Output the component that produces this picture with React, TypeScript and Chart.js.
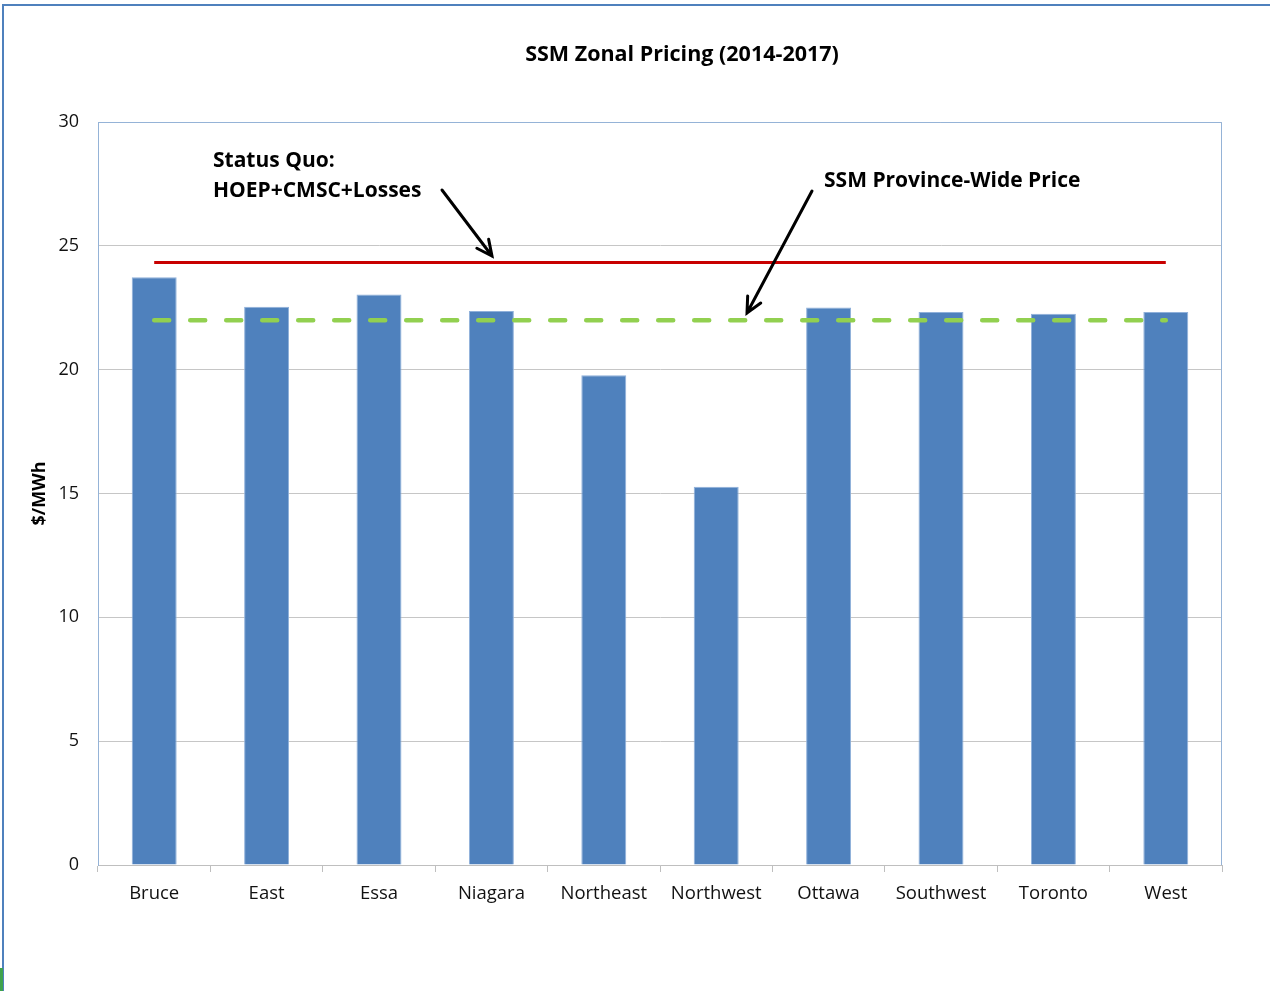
import React, { useEffect, useRef } from "react";
import { Chart, registerables } from "chart.js";

Chart.register(...registerables);

const zones = ["Bruce", "East", "Essa", "Niagara", "Northeast", "Northwest", "Ottawa", "Southwest", "Toronto", "West"];
const zonalPrices = [23.73, 22.54, 23.03, 22.37, 19.77, 15.27, 22.51, 22.33, 22.26, 22.33];
const statusQuoPrice = [24.33, 24.33, 24.33, 24.33, 24.33, 24.33, 24.33, 24.33, 24.33, 24.33];
const provinceWidePrice = [22.0, 22.0, 22.0, 22.0, 22.0, 22.0, 22.0, 22.0, 22.0, 22.0];
const yTicks = { min: 0, max: 30, step: 5 };

const chartTitle = "SSM Zonal Pricing (2014-2017)";
const yAxisTitle = "$/MWh";
const statusQuoLabel = ["Status Quo:", "HOEP+CMSC+Losses"];
const provinceLabel = "SSM Province-Wide Price";

const FONT = "'Open Sans', 'Liberation Sans', sans-serif";

function drawArrow(ctx: CanvasRenderingContext2D, x1: number, y1: number, x2: number, y2: number) {
  const ang = Math.atan2(y2 - y1, x2 - x1);
  const head = 17;
  const spread = 0.45;
  ctx.save();
  ctx.strokeStyle = "#000";
  ctx.lineWidth = 3;
  ctx.lineCap = "round";
  ctx.beginPath();
  ctx.moveTo(x1, y1);
  ctx.lineTo(x2, y2);
  ctx.moveTo(x2 - head * Math.cos(ang - spread), y2 - head * Math.sin(ang - spread));
  ctx.lineTo(x2, y2);
  ctx.lineTo(x2 - head * Math.cos(ang + spread), y2 - head * Math.sin(ang + spread));
  ctx.stroke();
  ctx.restore();
}

const decorPlugin = {
  id: "decor",
  beforeDatasetsDraw(chart: any) {
    const { ctx, chartArea } = chart;
    ctx.save();
    ctx.strokeStyle = "#95B3D7";
    ctx.lineWidth = 1;
    ctx.beginPath();
    ctx.moveTo(chartArea.left + 0.5, chartArea.bottom);
    ctx.lineTo(chartArea.left + 0.5, chartArea.top + 0.5);
    ctx.lineTo(chartArea.right - 0.5, chartArea.top + 0.5);
    ctx.lineTo(chartArea.right - 0.5, chartArea.bottom);
    ctx.stroke();
    ctx.restore();
  },
  afterDraw(chart: any) {
    const { ctx, width, height } = chart;
    ctx.save();
    // outer frame
    ctx.strokeStyle = "#4F81BD";
    ctx.lineWidth = 2;
    ctx.beginPath();
    ctx.moveTo(3, height + 5);
    ctx.lineTo(3, 5);
    ctx.lineTo(width + 5, 5);
    ctx.stroke();
    ctx.fillStyle = "#3FA34D";
    ctx.fillRect(0, 968, 3, 23);

    // title
    ctx.fillStyle = "#000";
    ctx.textAlign = "center";
    ctx.textBaseline = "middle";
    ctx.font = `bold 21.5px ${FONT}`;
    ctx.fillText(chartTitle, 682, 55);

    // annotations
    ctx.textAlign = "left";
    ctx.font = `bold 21px ${FONT}`;
    ctx.fillText(statusQuoLabel[0], 213, 161);
    ctx.fillText(statusQuoLabel[1], 213, 191);
    ctx.fillText(provinceLabel, 824, 181);
    ctx.restore();

    drawArrow(ctx, 442, 190, 492, 256);
    drawArrow(ctx, 812, 191, 747, 313);
  },
};

export default function App() {
  const ref = useRef<HTMLCanvasElement>(null);
  useEffect(() => {
    if (!ref.current) return;
    const chart = new Chart(ref.current, {
      type: "bar",
      data: {
        labels: zones,
        datasets: [
          {
            type: "bar",
            label: "Zonal Price",
            data: zonalPrices,
            backgroundColor: "#4F81BD",
            borderColor: "#8FB0DA",
            borderWidth: 1,
            categoryPercentage: 1,
            barPercentage: 0.4,
            order: 3,
          },
          {
            type: "line",
            label: "Status Quo",
            data: statusQuoPrice,
            borderColor: "#C80000",
            borderWidth: 3,
            pointRadius: 0,
            fill: false,
            order: 2,
          },
          {
            type: "line",
            label: "SSM Province-Wide Price",
            data: provinceWidePrice,
            borderColor: "#92D050",
            borderWidth: 4.5,
            borderDash: [15, 21],
            borderCapStyle: "round",
            pointRadius: 0,
            fill: false,
            order: 1,
          },
        ],
      },
      options: {
        responsive: false,
        animation: false,
        layout: { padding: { top: 122, right: 48, left: 0, bottom: 0 } },
        plugins: { legend: { display: false }, tooltip: { enabled: false }, title: { display: false } },
        scales: {
          x: {
            offset: true,
            grid: {
              offset: true,
              drawOnChartArea: false,
              drawTicks: true,
              tickLength: 7,
              color: "#BFBFBF",
            },
            border: { color: "#BFBFBF", width: 1 },
            ticks: { color: "#111", font: { family: FONT, size: 18.5 }, padding: 11, maxRotation: 0, autoSkip: false },
            afterFit: (s: any) => {
              s.height = 126;
            },
          },
          y: {
            min: yTicks.min,
            max: yTicks.max,
            ticks: { stepSize: yTicks.step, color: "#111", font: { family: FONT, size: 18 }, padding: 19 },
            grid: { color: "#C6C6C6", drawTicks: false, lineWidth: 1 },
            border: { color: "#95B3D7", width: 1 },
            title: { display: true, text: yAxisTitle, color: "#000", font: { family: FONT, size: 18, weight: "bold" }, padding: { top: 29, bottom: 0 } },
            afterFit: (s: any) => {
              s.width = 98;
            },
          },
        },
      },
      plugins: [decorPlugin],
    });
    return () => chart.destroy();
  }, []);
  return (
    <div style={{ position: "fixed", left: 0, top: 0, width: 1270, height: 991, background: "#fff" }}>
      <canvas ref={ref} width={1270} height={991} style={{ display: "block" }} />
    </div>
  );
}
